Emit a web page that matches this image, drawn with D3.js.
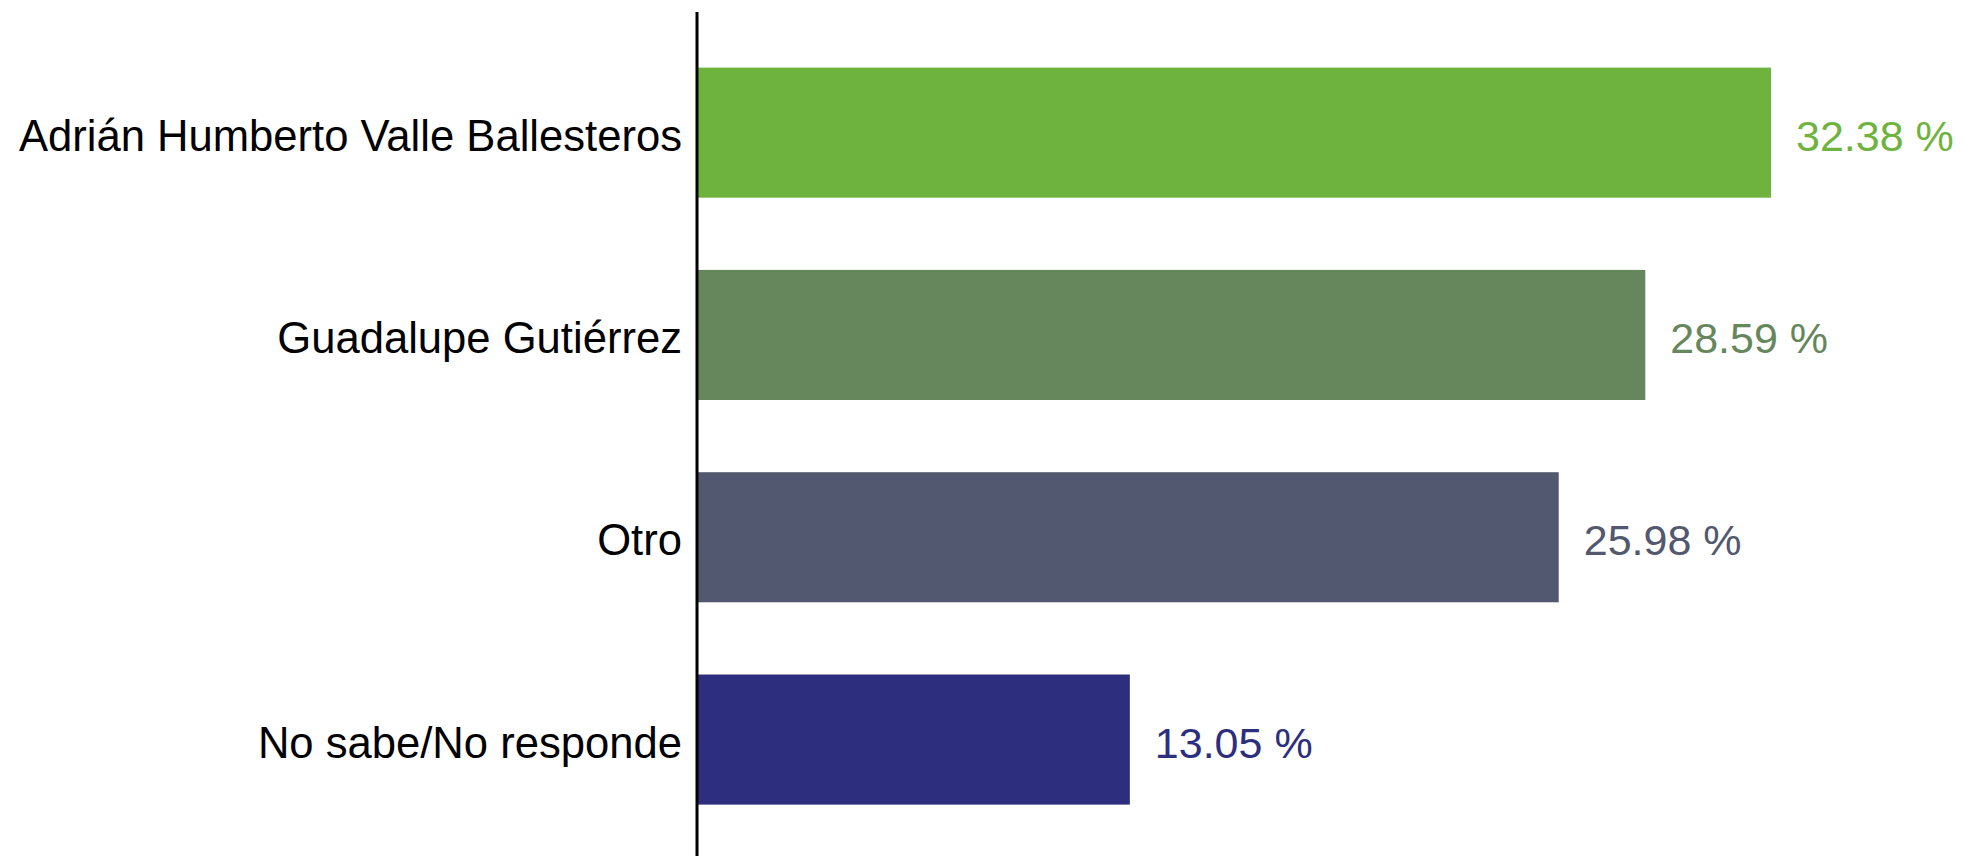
<!DOCTYPE html>
<html lang="en">
<head>
    <meta charset="UTF-8">
    <title>Intención de voto</title>
    <script src="https://d3js.org/d3.v7.min.js"></script>
    <style>
        html, body { margin: 0; padding: 0; background: #fff; }
        body { font-family: "Liberation Sans", Arial, sans-serif; }
    </style>
</head>
<body>
    <div id="chart"></div>

    <script>
        const categories = ["Adrián Humberto Valle Ballesteros", "Guadalupe Gutiérrez", "Otro", "No sabe/No responde"];
        const values = [32.38, 28.59, 25.98, 13.05];
        const colors = ["#6fb33f", "#66865c", "#52586f", "#2e2e7e"];

        const width = 1962, height = 856;
        const axisX = 697;

        const svg = d3.select("#chart")
            .append("svg")
            .attr("width", width)
            .attr("height", height);

        const x = d3.scaleLinear().domain([0, 32.38]).range([axisX, 1771]);
        const y = d3.scaleBand().domain(categories).range([67.6, 804.6]).paddingInner(0.357).paddingOuter(0);

        const data = categories.map((c, i) => ({ cat: c, value: values[i], color: colors[i] }));

        svg.selectAll(".bar")
            .data(data)
            .enter().append("rect")
            .attr("class", "bar")
            .attr("x", x(0))
            .attr("y", d => y(d.cat))
            .attr("width", d => x(d.value) - x(0))
            .attr("height", y.bandwidth())
            .attr("fill", d => d.color);

        svg.selectAll(".val")
            .data(data)
            .enter().append("text")
            .attr("class", "val")
            .attr("x", d => x(d.value) + 25)
            .attr("y", d => y(d.cat) + y.bandwidth() / 2 + 3)
            .attr("dy", "0.35em")
            .attr("fill", d => d.color)
            .style("font-size", "43px")
            .text(d => d.value.toFixed(2) + " %");

        // category axis: just the line and labels
        const yAxis = svg.append("g")
            .attr("transform", `translate(${axisX},4)`)
            .call(d3.axisLeft(y).tickSize(0).tickPadding(15));
        yAxis.select(".domain").remove();
        yAxis.selectAll("text")
            .style("font-family", "'Liberation Sans', Arial, sans-serif")
            .style("font-size", "43.6px")
            .attr("fill", "#000");

        svg.append("line")
            .attr("x1", axisX).attr("x2", axisX)
            .attr("y1", 12).attr("y2", height)
            .attr("stroke", "#000")
            .attr("stroke-width", 3);
    </script>
</body>
</html>
